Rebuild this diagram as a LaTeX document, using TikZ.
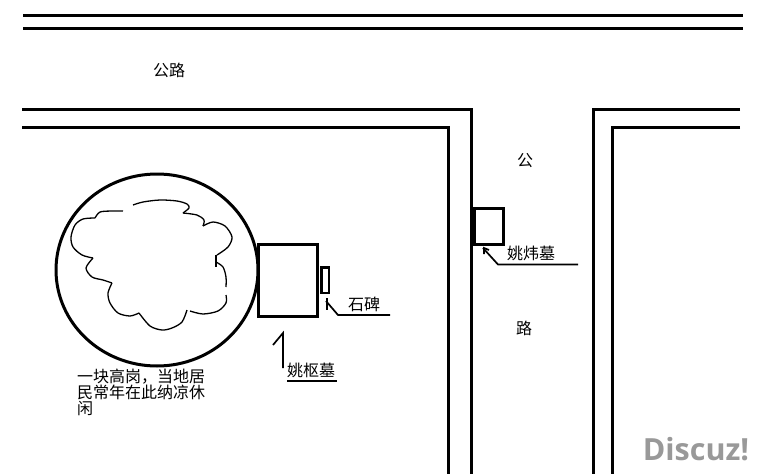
\documentclass[tikz,border=0pt]{standalone}
\usepackage{fontspec}
\setmainfont{Noto Sans CJK SC}
\newfontfamily\logofont{Open Sans}
\usetikzlibrary{arrows}
\usetikzlibrary{calc}

\tikzset{
  road/.style={line width=3pt},
  tomb/.style={draw,line width=3pt,minimum width=#1,inner sep=0pt},
  thin line/.style={line width=1.7pt},
  cloud line/.style={line width=1.3pt},
  label/.style={inner sep=0pt,font=\fontsize{16}{16}\selectfont}
}

\begin{document}
\begin{tikzpicture}[x=1pt,y=-1pt]
        \useasboundingbox (0,0) rectangle (766,474);

        % roads
        \draw[road] (23,15) -- (743,15);
        \draw[road] (23,28) -- (743,28);
        \draw[road] (22,109) -- (471,109) -- (471,474);
        \draw[road] (22,127) -- (448,127) -- (448,474);
        \draw[road] (740,109) -- (593,109) -- (593,474);
        \draw[road] (740,127) -- (612,127) -- (612,474);

        % mound
        \draw[line width=3pt] (157,270) ellipse (101 and 96);
        \draw[cloud line] plot[smooth] coordinates {(133,205) (143,202) (160,200) (177,201) (187,204) (189,208) (183,213)};
        \draw[cloud line] plot[smooth] coordinates {(183,213) (197,215) (204,220) (203,226)};
        \draw[cloud line] plot[smooth] coordinates {(203,226) (213,222) (225,226) (232,237) (228,247) (217,255)};
        \draw[cloud line] (216,255) -- (216,267);
        \draw[cloud line] plot[smooth] coordinates {(216,262) (223,267) (226,277) (226,287)};
        \draw[cloud line] plot[smooth] coordinates {(226,295) (226,303) (218,311) (203,314) (190,311)};
        \draw[cloud line] plot[smooth] coordinates {(187,310) (182,322) (172,328) (162,330) (150,326) (139,313)};
        \draw[cloud line] plot[smooth] coordinates {(139,313) (130,316) (118,313) (110,303) (108,293) (112,283)};
        \draw[cloud line] plot[smooth] coordinates {(112,283) (103,280) (92,277) (86,268) (93,258)};
        \draw[cloud line] plot[smooth] coordinates {(93,258) (82,255) (73,247) (71,237) (75,225) (83,219) (95,218)};
        \draw[cloud line] plot[smooth] coordinates {(95,218) (100,212) (112,211) (123,211)};

        % tombs
        \node[tomb=59pt,minimum height=72pt] (shu) at (288,280.5) {};
        \node[tomb=29pt,minimum height=36pt] (wei) at (489,226.5) {};
        \node[draw,line width=2.5pt,minimum width=7.5pt,minimum height=25.5pt,inner sep=0pt] (bei) at (325,280) {};

        % labels
        \node[label] (gonglu) at (169,70) {公路};
        \node[label] (gong) at (525,161) {公};
        \node[label] (lu) at (524,328) {路};
        \node[label] (weilabel) at (531,253) {姚炜墓};
        \node[label] (beilabel) at (364,304) {石碑};
        \node[label] (shulabel) at (311,370) {姚枢墓};
        \node[label,anchor=north west,align=left] (mound) at (77,369) {一块高岗，当地居\\民常年在此纳凉休\\闲};

        % leaders
        \coordinate (weiend) at (578,264.5);
        \coordinate (weibend) at (498,264.5);
        \coordinate (weitip) at (483,248);
        \draw[thin line] (weiend) -- (weibend) -- (weitip);
        \draw[thin line] (484,254) -- (484,248) -- (489,250);
        \coordinate (beiend) at (390,315);
        \coordinate (beibend) at (338,315);
        \coordinate (beitip) at (326,301);
        \draw[thin line] (beiend) -- (beibend) -- (beitip);
        \draw[thin line] (327,298) -- (327,310);
        \coordinate (shuend) at (283,368);
        \coordinate (shutop) at (283,333);
        \coordinate (shuhook) at (273,345);
        \draw[thin line] (shuend) -- (shutop) -- (shuhook);
        \draw[thin line] (287,381) -- (337,381);

        \node[text=black!40,font=\logofont\bfseries\fontsize{30.5}{31}\selectfont,inner sep=0pt] (logo) at (696,449) {Discuz!};
      \end{tikzpicture}
\end{document}
